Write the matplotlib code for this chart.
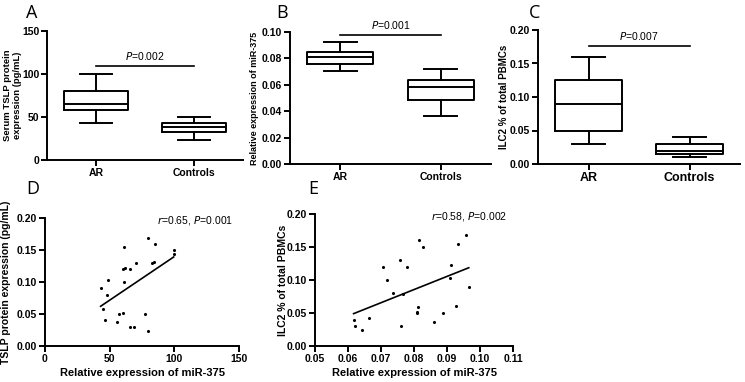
import numpy as np
import matplotlib
matplotlib.use('Agg')
import matplotlib.pyplot as plt
from matplotlib.ticker import FormatStrFormatter

plt.rcParams['font.family'] = ['Liberation Sans', 'DejaVu Sans']

groups = ['AR', 'Controls']

# box stats: lower whisker, q1, median, q3, upper whisker
tslp_box = [[43.5, 58, 65, 80.5, 100], [23, 32.5, 38, 42.5, 49.5]]
mir_box = [[0.0706, 0.0759, 0.0807, 0.0850, 0.0928], [0.0366, 0.0487, 0.0583, 0.0636, 0.0719]]
ilc2_box = [[0.030, 0.050, 0.090, 0.125, 0.160], [0.010, 0.015, 0.020, 0.030, 0.040]]
p_box = ['0.002', '0.001', '0.007']
p_line_y = [109.5, 0.0974, 0.176]

# panel D: miR-375 (x) vs TSLP (y)
d_x = [43, 45, 46.5, 48, 49, 55.5, 57, 60, 61, 61, 60, 62, 65.5, 66, 68.5, 70,
       77.5, 79.5, 80, 83, 84, 85, 99.5, 99.5]
d_y = [0.090, 0.058, 0.040, 0.080, 0.103, 0.037, 0.050, 0.052, 0.100, 0.154, 0.120, 0.122,
       0.030, 0.120, 0.030, 0.130, 0.050, 0.168, 0.024, 0.130, 0.131, 0.160, 0.150, 0.143]

# panel E: miR-375 (x) vs ILC2 (y)
e_x = [0.0617, 0.0620, 0.0641, 0.0665, 0.0707, 0.0718, 0.0737, 0.0758, 0.0760, 0.0767,
       0.0778, 0.0808, 0.0810, 0.0811, 0.0815, 0.0828, 0.0861, 0.0887, 0.0911, 0.0910,
       0.0927, 0.0934, 0.0959, 0.0966]
e_y = [0.040, 0.030, 0.024, 0.043, 0.120, 0.100, 0.080, 0.130, 0.030, 0.079,
       0.120, 0.050, 0.052, 0.059, 0.160, 0.150, 0.037, 0.050, 0.122, 0.103,
       0.060, 0.154, 0.168, 0.090]
d_stat = 'r=0.65, P=0.001'
e_stat = 'r=0.58, P=0.002'

W, H = 745, 382
fig = plt.figure(figsize=(W / 100, H / 100), dpi=100)


def px_axes(x0, y0, x1, y1):
    return fig.add_axes([x0 / W, (H - y1) / H, (x1 - x0) / W, (y1 - y0) / H])


def style(ax, fs=7.5):
    for s in ['top', 'right']:
        ax.spines[s].set_visible(False)
    for s in ['left', 'bottom']:
        ax.spines[s].set_linewidth(1.4)
    ax.tick_params(direction='out', length=4, width=1.4, labelsize=fs, pad=1.5)
    for lab in ax.get_xticklabels() + ax.get_yticklabels():
        lab.set_fontweight('bold')


def box_panel(ax, data, pval, py, ylim, yticks, fmt, ylabel, xfs, ylfs, ylx):
    stats = []
    for name, (lo, q1, med, q3, hi) in zip(groups, data):
        stats.append(dict(label=name, whislo=lo, q1=q1, med=med, q3=q3, whishi=hi, fliers=[]))
    lp = dict(color='black', linewidth=1.4)
    ax.bxp(stats, positions=[0, 1], widths=0.66, capwidths=0.33, showfliers=False,
           boxprops=lp, whiskerprops=lp, capprops=lp, medianprops=lp)
    ax.set_xlim(-0.5, 1.5)
    ax.set_ylim(*ylim)
    ax.set_yticks(yticks)
    if fmt:
        ax.yaxis.set_major_formatter(FormatStrFormatter(fmt))
    ax.plot([0, 1], [py, py], color='black', lw=1.2)
    ax.text(0.5, py + (ylim[1] - ylim[0]) * 0.03, r'$\it{P}$=' + pval,
            ha='center', va='bottom', fontsize=7.5)
    ax.set_ylabel(ylabel, fontsize=ylfs, fontweight='bold')
    ax.yaxis.set_label_coords(ylx, 0.5)
    style(ax)
    ax.tick_params(axis='x', labelsize=xfs)
    for lab in ax.get_xticklabels():
        lab.set_fontweight('bold')


axA = px_axes(47, 31, 243, 160)
box_panel(axA, tslp_box, p_box[0], p_line_y[0], (0, 150), [0, 50, 100, 150], None,
          'Serum TSLP protein\nexpression (pg/mL)', 7.5, 6.8, -0.125)
axB = px_axes(290, 32, 491, 164)
box_panel(axB, mir_box, p_box[1], p_line_y[1], (0, 0.10), np.arange(0, 0.101, 0.02), '%.2f',
          'Relative expression of miR-375', 7.5, 6.5, -0.152)
axC = px_axes(538, 30, 740, 164)
box_panel(axC, ilc2_box, p_box[2], p_line_y[2], (0, 0.20), np.arange(0, 0.201, 0.05), '%.2f',
          'ILC2 % of total PBMCs', 9, 7, -0.142)


def scatter_panel(ax, x, y, xlim, xticks, xfmt, ylabel, stat, ylx):
    ax.scatter(x, y, s=5, color='black', zorder=3, linewidths=0)
    k, b = np.polyfit(x, y, 1)
    xs = np.array([min(x), max(x)])
    ax.plot(xs, k * xs + b, color='black', lw=1.2)
    ax.set_xlim(*xlim)
    ax.set_xticks(xticks)
    if xfmt:
        ax.xaxis.set_major_formatter(FormatStrFormatter(xfmt))
    ax.set_ylim(0, 0.20)
    ax.set_yticks(np.arange(0, 0.201, 0.05))
    ax.yaxis.set_major_formatter(FormatStrFormatter('%.2f'))
    ax.set_xlabel('Relative expression of miR-375', fontsize=8, fontweight='bold', labelpad=3)
    ax.set_ylabel(ylabel, fontsize=7.5, fontweight='bold')
    ax.yaxis.set_label_coords(ylx, 0.5)
    r, p = stat.split(', ')
    ax.text(0.97, 0.98, r'$\it{r}$=' + r[2:] + r', $\it{P}$=' + p[2:], transform=ax.transAxes,
            ha='right', va='center', fontsize=7.5)
    style(ax)


axD = px_axes(45, 218, 239, 346)
scatter_panel(axD, d_x, d_y, (0, 150), [0, 50, 100, 150], None,
              'TSLP protein expression (pg/mL)', d_stat, -0.175)
axE = px_axes(315, 214, 513, 346)
scatter_panel(axE, e_x, e_y, (0.05, 0.11), np.arange(0.05, 0.1101, 0.01), '%.2f',
              'ILC2 % of total PBMCs', e_stat, -0.138)

for letter, (lx, ly) in zip('ABCDE', [(32, 13), (282, 13), (535, 13), (33, 189), (313, 189)]):
    fig.text(lx / W, 1 - ly / H, letter, fontsize=13, family='Open Sans', ha='center', va='center')

fig.savefig('out.png', dpi=100)
